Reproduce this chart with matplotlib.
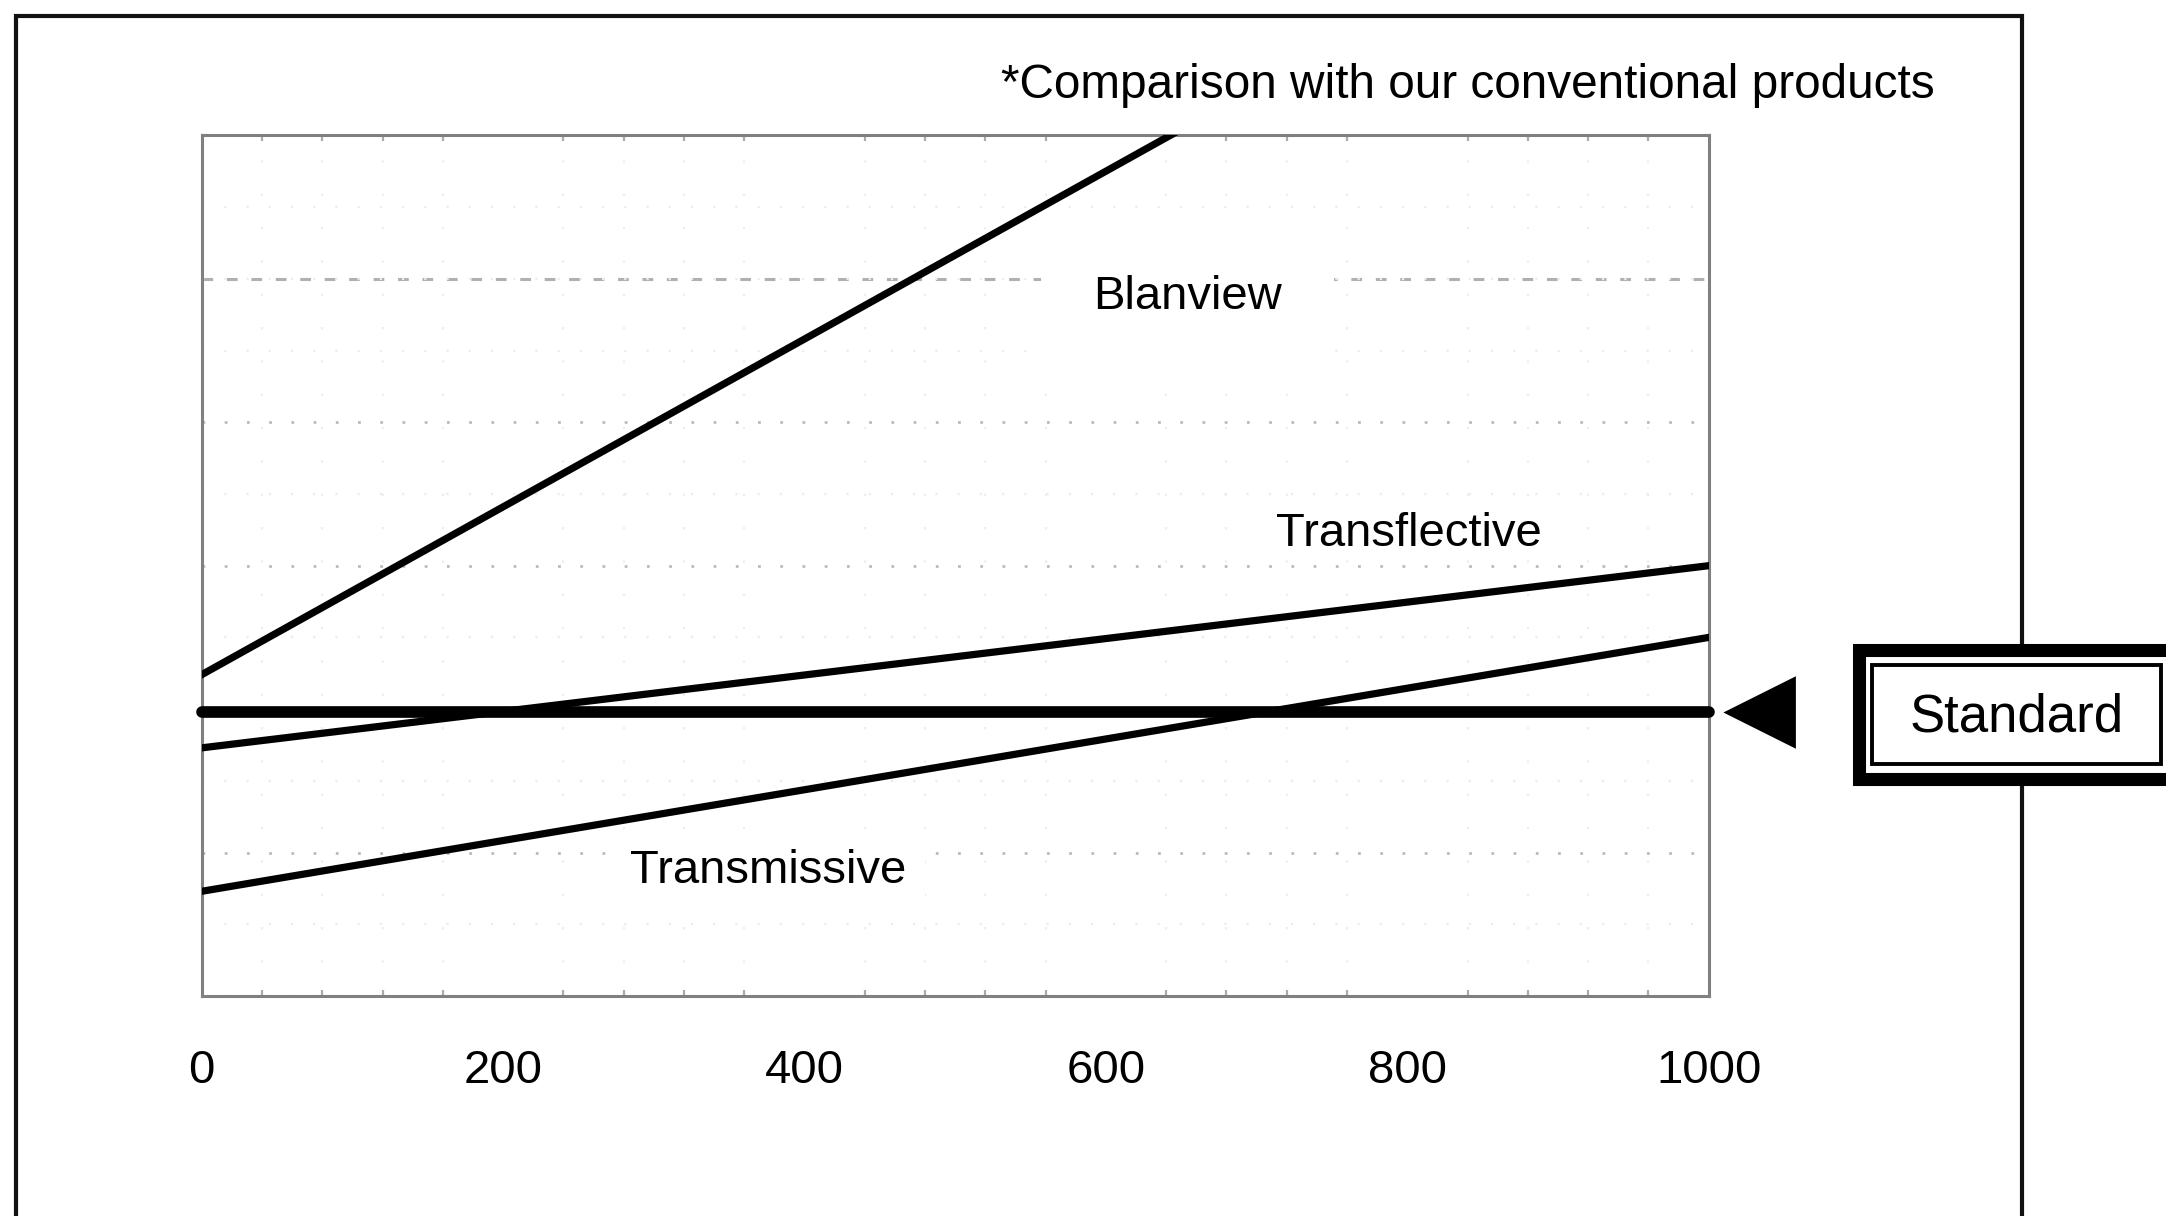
import matplotlib
matplotlib.use("Agg")
import matplotlib.pyplot as plt
from matplotlib.patches import Rectangle
from matplotlib.ticker import MultipleLocator

plt.rcParams['font.family'] = ['Liberation Sans', 'DejaVu Sans']

# values (relative brightness, arbitrary units)
x_vals = [0, 1000]
blanview = [2.24, 8.09]
transflective = [1.73, 3.00]
transmissive = [0.73, 2.50]
standard = [1.98, 1.98]

x_ticks = [0, 200, 400, 600, 800, 1000]
note = "*Comparison with our conventional products"

fig = plt.figure(figsize=(10.83, 6.08), dpi=200)
ax = fig.add_axes([0.0931, 0.1809, 0.6958, 0.7078])

ax.set_xlim(0, 1000)
ax.set_ylim(0, 6)

# grid: faint dotted rows / columns, one dashed row
ax.set_yticks([1, 2, 3, 4])
ax.yaxis.set_minor_locator(MultipleLocator(0.5))
ax.xaxis.set_minor_locator(MultipleLocator(40))
ax.set_xticks(x_ticks)
ax.set_xticklabels([str(t) for t in x_ticks])
ax.grid(axis='y', which='major', color='#bbbbbb', linestyle=(0, (1, 7)), linewidth=1.0)
ax.grid(axis='y', which='minor', color='#ececec', linestyle=(0, (1, 9)), linewidth=0.8)
ax.grid(axis='x', which='minor', color='#ededed', linestyle=(0, (1, 14)), linewidth=0.8)
ax.axhline(5, color='#b0b0b0', linestyle=(0, (3.5, 4.5)), linewidth=1.1, zorder=1)

ax.tick_params(axis='y', which='both', left=False, labelleft=False)
ax.tick_params(axis='x', which='major', length=0, pad=19, labelsize=17)
ax.tick_params(axis='x', which='minor', direction='in', length=2.2, width=0.8,
               color='#aaaaaa', top=True, bottom=True)

for sp in ax.spines.values():
    sp.set_color('#808080')
    sp.set_linewidth(1.1)

ax.plot(x_vals, blanview, color='black', linewidth=2.6, zorder=3)
ax.plot(x_vals, transflective, color='black', linewidth=2.6, zorder=3)
ax.plot(x_vals, transmissive, color='black', linewidth=2.6, zorder=3)
ax.plot(x_vals, standard, color='black', linewidth=4.2, solid_capstyle='round',
        clip_on=False, zorder=4)

# pointer to the standard line
ax.plot([1034], [standard[-1]], marker='<', markersize=24.5, color='black', clip_on=False)

lbl = dict(fontsize=17, ha='center', va='center', zorder=2)
ax.text(654, 4.87, "Blanview",
        bbox=dict(boxstyle='square,pad=1.1', fc='white', ec='none'), **lbl)
ax.text(801, 3.22, "Transflective",
        bbox=dict(boxstyle='square,pad=0.05', fc='white', ec='none'), **lbl)
ax.text(376, 0.87, "Transmissive",
        bbox=dict(boxstyle='square,pad=0.4', fc='white', ec='none'), **lbl)

fig.text(0.8934, 0.9194, note, fontsize=17.2, ha='right', va='baseline')

# outer frame, open at the bottom of the picture
fig.add_artist(Rectangle((0.0074, -0.2), 0.9261, 1.1868, transform=fig.transFigure,
                         fill=False, edgecolor='#111111', linewidth=1.5))

# "Standard" box with heavy double border
fig.add_artist(Rectangle((1858.5 / 2166, 1 - 778.5 / 1216), 0.2, (778.5 - 649.5) / 1216,
                         transform=fig.transFigure, facecolor='white',
                         edgecolor='black', linewidth=4.7, zorder=5))
fig.add_artist(Rectangle((1872 / 2166, 1 - 764 / 1216), (2161 - 1872) / 2166, (764 - 665) / 1216,
                         transform=fig.transFigure, facecolor='white',
                         edgecolor='black', linewidth=1.4, zorder=6))
fig.text(0.9311, 0.4102, "Standard", fontsize=19, ha='center', va='center', zorder=7)

fig.savefig("out.png", dpi=200, facecolor='white')
